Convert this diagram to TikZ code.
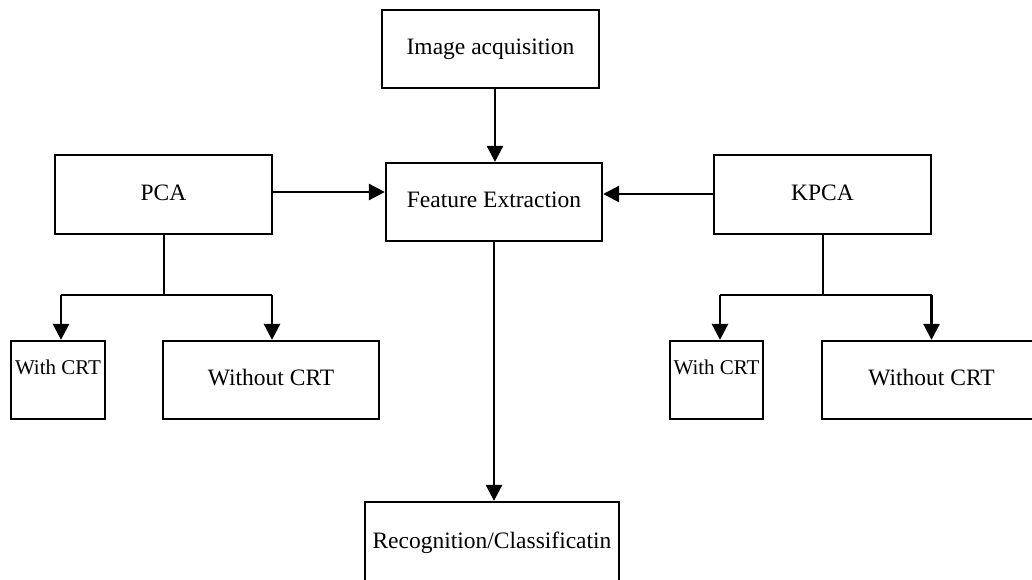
\documentclass[tikz,border=0pt]{standalone}
\usepackage{fontspec}
\setmainfont{Liberation Serif}
\usetikzlibrary{arrows.meta}
\begin{document}
\begin{tikzpicture}[x=1pt,y=-1pt,
  box/.style={draw,line width=2.3pt,inner sep=0pt,minimum width=#1},
  txt/.style={inner sep=0pt,text height=0.66em,text depth=0pt,font=\fontsize{23.5}{28}\selectfont},
  smalltxt/.style={inner sep=0pt,text height=0.66em,text depth=0pt,font=\fontsize{21}{25}\selectfont},
  arr/.style={line width=2.8pt,-{Triangle[length=16pt,width=16pt]}},
  con/.style={line width=2.2pt}]
\useasboundingbox (0,0) rectangle (1032,579);
% boxes
\node[box=217pt,minimum height=78pt] (IA) at (490.5,49) {};
\node[box=216pt,minimum height=78pt] (FE) at (494,202) {};
\node[box=217pt,minimum height=79pt] (PCA) at (163.5,194.5) {};
\node[box=217pt,minimum height=79pt] (KPCA) at (822.5,194.5) {};
\node[box=94pt,minimum height=78pt] (W1) at (58,380) {};
\node[box=216pt,minimum height=78pt] (WO1) at (271,380) {};
\node[box=93pt,minimum height=78pt] (W2) at (716.5,380) {};
\node[box=219pt,minimum height=78pt] (WO2) at (931.5,380) {};
\node[box=254pt,minimum height=88pt] (REC) at (492,546) {};
% texts
\node[txt] (tIA) at (490.5,51) {Image acquisition};
\node[txt] (tFE) at (494,204) {Feature Extraction};
\node[txt] (tPCA) at (163.5,197.5) {PCA};
\node[txt] (tKPCA) at (822.5,197.5) {KPCA};
\node[smalltxt] (tW1) at (58,371) {With CRT};
\node[txt] (tWO1) at (271,382) {Without CRT};
\node[smalltxt] (tW2) at (716.5,371) {With CRT};
\node[txt] (tWO2) at (931.5,382) {Without CRT};
\node[txt] (tREC) at (492,545) {Recognition/Classificatin};
% helper coordinates
\coordinate (cIA) at (495,0);
\coordinate (cFE) at (494,0);
\coordinate (cPCA) at (0,192);
\coordinate (cKPCA) at (0,194);
\coordinate (pj) at (164,295);
\coordinate (kj) at (823,295);
\coordinate (a1) at (61,295);
\coordinate (a2) at (272,295);
\coordinate (b1) at (720,295);
\coordinate (b2) at (931.5,295);
% connectors
\draw[arr] (IA.south -| cIA) -- (FE.north -| cIA);
\draw[arr] (PCA.east |- cPCA) -- (FE.west |- cPCA);
\draw[arr] (KPCA.west |- cKPCA) -- (FE.east |- cKPCA);
\draw[arr] (FE.south -| cFE) -- (REC.north -| cFE);
\draw[con] (PCA.south -| pj) -- (pj);
\draw[con] (a1) -- (a2);
\draw[arr] (a1) -- (a1 |- W1.north);
\draw[arr] (a2) -- (a2 |- WO1.north);
\draw[con] (KPCA.south -| kj) -- (kj);
\draw[con] (b1) -- (b2);
\draw[arr] (b1) -- (b1 |- W2.north);
\draw[arr] (b2) -- (b2 |- WO2.north);
\end{tikzpicture}
\end{document}
